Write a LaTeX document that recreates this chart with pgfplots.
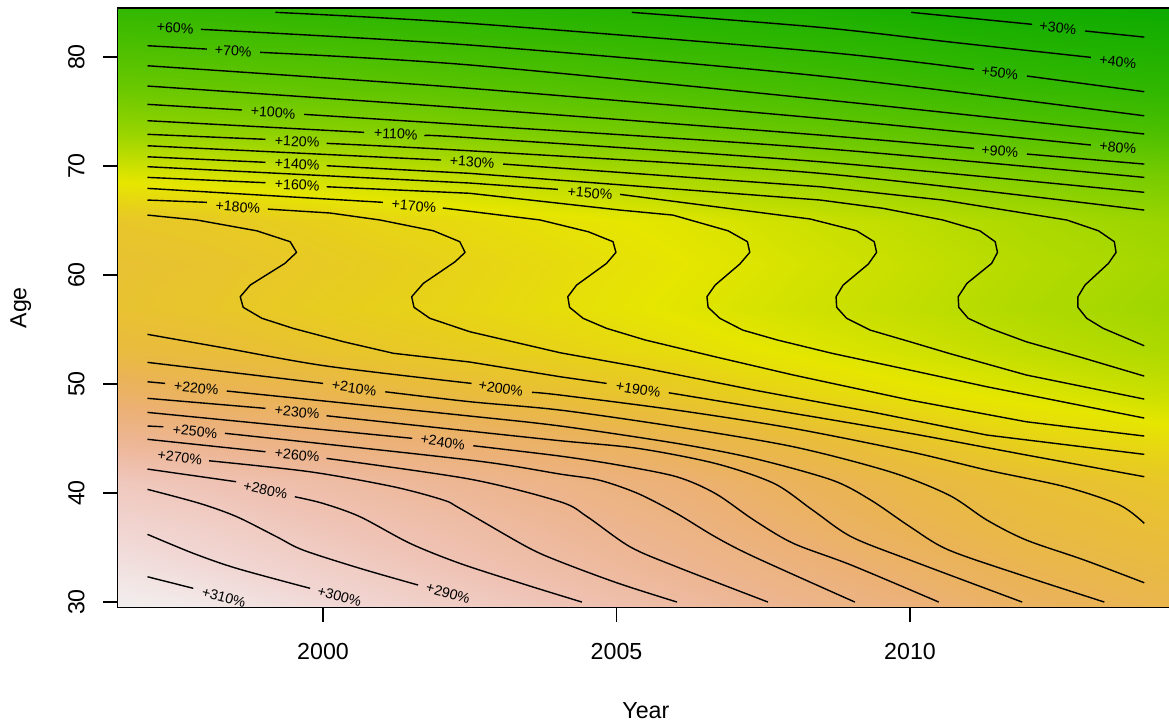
\documentclass[border=0pt]{standalone}
\usepackage{pgfplots}
\pgfplotsset{compat=1.18}
\usepackage{fontspec}
\setmainfont{Liberation Sans}
\pgfplotsset{cl/.style={black, line width=0.7pt, mark=none, line join=round},
  cs/.style={cl, smooth, tension=0.5}}
\newcommand\cl[4]{\node[font=\fontsize{7.1}{8}\selectfont, rotate=#3, inner sep=0pt] at (axis cs:#1,#2) {#4};}
\begin{document}
\begin{tikzpicture}
\begin{axis}[
  at={(0,0)}, anchor=south west,
  scale only axis, width=528.3pt, height=299.75pt,
  xmin=1996.5, xmax=2014.5, ymin=29.5, ymax=84.5,
  xtick={2000,2005,2010}, ytick={30,40,...,80},
  tick align=outside, major tick length=7.2pt,
  xtick pos=left, ytick pos=left,
  axis line style={line width=0.6pt},
  every tick/.style={black, line width=0.6pt},
  /pgf/number format/assume math mode=true,
  /pgf/number format/1000 sep={},
  tick label style={font=\fontsize{11.6}{13}\selectfont, inner sep=0pt},
  xticklabel style={anchor=north},
  yticklabel style={rotate=90, anchor=south},
  xticklabel shift=10.7pt, yticklabel shift=9.1pt,
  xlabel={Year}, ylabel={Age},
  label style={font=\fontsize{11.6}{13}\selectfont, inner sep=0pt},
  xlabel style={at={(axis description cs:0.5,-0.1576)}, anchor=north},
  ylabel style={at={(axis description cs:-0.1018,0.5)}, anchor=north},
  colormap={terrain}{rgb255=(0,166,0) rgb255=(22,174,0) rgb255=(45,182,0) rgb255=(71,190,0) rgb255=(99,198,0) rgb255=(128,206,0) rgb255=(160,214,0) rgb255=(194,222,0) rgb255=(230,230,0) rgb255=(231,206,29) rgb255=(233,189,58) rgb255=(234,179,88) rgb255=(236,177,118) rgb255=(237,182,148) rgb255=(239,194,179) rgb255=(241,214,211) rgb255=(242,242,242)},
  point meta min=8, point meta max=320,
  axis on top,
]
\addplot[surf, shader=interp, mesh/cols=10, point meta=explicit] table[x=x,y=y,meta=v] {
x y v
1996.5 29.5 318
1998 29.5 314
2000 29.5 304
2002 29.5 294
2004 29.5 284
2006 29.5 272
2008 29.5 258
2010 29.5 246
2012 29.5 228
2014.5 29.5 216
1996.5 33 309
1998 33 303
2000 33 294
2002 33 284
2004 33 273
2006 33 261
2008 33 248
2010 33 233
2012 33 218
2014.5 33 208
1996.5 37 299
1998 37 294
2000 37 284
2002 37 275
2004 37 264
2006 37 252
2008 37 236
2010 37 220
2012 37 208
2014.5 37 200
1996.5 41 287
1998 41 282
2000 41 273
2002 41 263
2004 41 253
2006 41 242
2008 41 225
2010 41 211
2012 41 201
2014.5 41 191
1996.5 45 261
1998 45 255
2000 45 246
2002 45 238
2004 45 229
2006 45 217
2008 45 206
2010 45 193
2012 45 179
2014.5 45 171
1996.5 49 233
1998 49 224
2000 49 217
2002 49 208
2004 49 200
2006 49 191
2008 49 179
2010 49 168
2012 49 160
2014.5 49 148
1996.5 53 207
1998 53 203
2000 53 195
2002 53 188
2004 53 180
2006 53 172
2008 53 162
2010 53 153
2012 53 143
2014.5 53 132
1996.5 57 197
1998 57 193
2000 57 185
2002 57 179
2004 57 171
2006 57 162
2008 57 153
2010 57 144
2012 57 134
2014.5 57 124
1996.5 61 198
1998 61 195
2000 61 188
2002 61 181
2004 61 173
2006 61 165
2008 61 156
2010 61 147
2012 61 137
2014.5 61 127
1996.5 65 192
1998 65 189
2000 65 182
2002 65 175
2004 65 168
2006 65 161
2008 65 151
2010 65 142
2012 65 132
2014.5 65 121
1996.5 69 160
1998 69 157
2000 69 151
2002 69 145
2004 69 138
2006 69 130
2008 69 124
2010 69 115
2012 69 106
2014.5 69 100
1996.5 73 121
1998 73 117
2000 73 112
2002 73 108
2004 73 102
2006 73 96
2008 73 90
2010 73 84
2012 73 77
2014.5 73 70
1996.5 77 92
1998 77 90
2000 77 86
2002 77 82
2004 77 77
2006 77 72
2008 77 67
2010 77 61
2012 77 55
2014.5 77 49
1996.5 81 70
1998 81 68
2000 81 65
2002 81 61
2004 81 57
2006 81 53
2008 81 49
2010 81 44
2012 81 38
2014.5 81 33
1996.5 84.5 51
1998 84.5 50
2000 84.5 47
2002 84.5 44
2004 84.5 40
2006 84.5 37
2008 84.5 34
2010 84.5 28
2012 84.5 24
2014.5 84.5 19
};
% +30
\addplot[cl] coordinates {(2010.02,84.10) (2012.08,83.00)};
\addplot[cl] coordinates {(2012.98,82.39) (2013.99,81.83)};
% +40
\addplot[cs] coordinates {(2005.26,84.10) (2008.47,82.72) (2010.68,81.38) (2013.08,79.97)};
% +50
\addplot[cs] coordinates {(1999.19,84.10) (2002.50,83.09) (2008.47,80.49) (2011.09,78.87)};
\addplot[cl] coordinates {(2011.99,78.26) (2013.99,76.82)};
% +60
\addplot[cs] coordinates {(1997.92,82.54) (2002.50,81.10) (2008.47,78.26) (2013.99,74.61)};
% +70
\addplot[cl] coordinates {(1997.01,81.04) (1998.02,80.73)};
\addplot[cs] coordinates {(1998.93,80.43) (2002.50,79.27) (2008.47,76.12) (2013.99,72.94)};
% +80
\addplot[cs] coordinates {(1997.01,79.20) (2002.50,77.13) (2008.47,74.38) (2013.08,71.93)};
% +90
\addplot[cs] coordinates {(1997.01,77.34) (2002.50,75.29) (2008.47,72.84) (2011.09,71.62)};
\addplot[cl] coordinates {(2011.99,71.10) (2013.99,70.18)};
% +100
\addplot[cl] coordinates {(1997.01,75.66) (1998.62,75.14)};
\addplot[cs] coordinates {(1999.68,74.74) (2002.50,73.76) (2008.47,71.62) (2013.99,68.96)};
% +110
\addplot[cl] coordinates {(1997.01,74.16) (2000.70,73.09)};
\addplot[cs] coordinates {(2001.75,72.78) (2002.50,72.60) (2008.47,70.39) (2013.99,67.59)};
% +120
\addplot[cl] coordinates {(1997.01,72.91) (1999.02,72.45)};
\addplot[cs] coordinates {(2000.06,72.08) (2002.50,71.40) (2008.47,69.33) (2013.99,65.96)};
% +130
\addplot[cl] coordinates {(1997.01,71.86) (2002.01,70.55)};
\addplot[cl] coordinates {(2003.07,70.18) (2008.47,68.10) (2010.56,66.88) (2012.67,65.05) (2013.21,64.06) (2013.48,63.06) (2013.51,62.08) (2013.38,61.07) (2012.98,59.08) (2012.86,58.01) (2012.86,57.04) (2013.01,56.03) (2013.29,55.11) (2013.99,53.51)};
% +140
\addplot[cl] coordinates {(1997.01,70.85) (1999.02,70.34)};
\addplot[cl] coordinates {(2000.06,70.03) (2002.50,69.33) (2008.47,66.88) (2009.54,66.12) (2010.56,65.05) (2011.19,64.06) (2011.45,63.06) (2011.49,62.08) (2011.39,61.07) (2010.97,59.24) (2010.82,58.01) (2010.83,57.04) (2010.99,56.03) (2011.36,55.11) (2011.98,53.88) (2012.97,52.36) (2013.99,50.73)};
% +150
\addplot[cl] coordinates {(1997.01,69.94) (2002.50,68.44) (2004.00,67.86)};
\addplot[cl] coordinates {(2005.06,67.40) (2008.30,65.14) (2009.09,64.06) (2009.39,63.06) (2009.43,62.08) (2009.29,61.01) (2008.86,59.08) (2008.74,58.01) (2008.75,57.04) (2008.92,56.03) (2009.32,54.95) (2010.00,53.88) (2010.66,52.82) (2011.98,50.83) (2013.99,48.62)};
% +160
\addplot[cl] coordinates {(1997.01,68.96) (1999.02,68.47)};
\addplot[cl] coordinates {(2000.06,68.10) (2002.50,67.50) (2005.06,65.96) (2005.96,65.50) (2006.90,64.06) (2007.23,63.06) (2007.27,62.08) (2007.10,61.01) (2006.68,59.08) (2006.54,58.01) (2006.56,57.04) (2006.76,56.03) (2007.15,54.95) (2007.74,54.04) (2008.67,52.82) (2010.00,51.28) (2011.31,49.75) (2013.99,46.88)};
% +170
\addplot[cl] coordinates {(1997.01,67.95) (2001.02,66.67)};
\addplot[cl] coordinates {(2002.04,66.15) (2003.70,65.05) (2004.52,63.97) (2004.94,63.06) (2004.99,62.08) (2004.83,61.07) (2004.32,59.08) (2004.17,58.01) (2004.20,57.04) (2004.43,56.03) (2004.83,55.11) (2005.49,54.04) (2006.68,52.50) (2008.01,50.83) (2010.00,48.53) (2011.98,46.54) (2013.99,45.23)};
% +180
\addplot[cl] coordinates {(1997.01,66.88) (1998.02,66.67)};
\addplot[cl] coordinates {(1999.06,66.05) (2000.12,65.69) (2000.97,65.05) (2001.88,64.06) (2002.33,63.06) (2002.42,62.08) (2002.25,61.22) (2001.71,59.24) (2001.51,58.01) (2001.55,57.04) (2001.82,56.03) (2002.50,54.80) (2004.04,52.87) (2005.36,51.59) (2007.34,49.45) (2009.33,47.46) (2011.31,45.32) (2013.99,43.55)};
% +190
\addplot[cl] coordinates {(1997.01,65.50) (1997.85,65.05) (1998.87,64.06) (1999.44,63.06) (1999.55,62.08) (1999.35,61.07) (1998.76,59.08) (1998.59,58.01) (1998.64,57.04) (1998.96,56.03) (1999.49,55.11) (2000.35,53.88) (2001.20,52.82) (2002.50,52.02) (2004.04,50.67) (2004.83,50.06)};
\addplot[cs] coordinates {(2005.89,49.20) (2008.01,47.31) (2010.00,45.48) (2011.98,43.49) (2013.99,41.50)};
% +200
\addplot[cs] coordinates {(1997.01,54.56) (1998.36,53.27) (2000.06,51.65) (2002.53,50.06)};
\addplot[cs] coordinates {(2003.56,49.24) (2004.04,48.99) (2006.02,47.61) (2008.01,45.93) (2010.00,43.79) (2011.31,42.11) (2012.64,40.58) (2013.57,38.90) (2013.99,37.22)};
% +210
\addplot[cl] coordinates {(1997.01,51.99) (2000.00,50.06)};
\addplot[cs] coordinates {(2001.06,49.29) (2002.50,48.38) (2004.04,47.61) (2006.02,46.08) (2008.01,44.25) (2009.66,41.95) (2010.66,39.82) (2011.31,37.52) (2011.98,35.69) (2012.97,33.85) (2013.99,31.77)};
% +220
\addplot[cl] coordinates {(1997.01,50.21) (1997.31,50.06)};
\addplot[cs] coordinates {(1998.36,49.36) (2002.33,47.16) (2004.04,46.15) (2006.02,44.56) (2007.34,43.18) (2008.67,41.19) (2009.33,39.36) (2010.00,36.91) (2010.66,34.77) (2011.98,32.32) (2013.31,30.00)};
% +230
\addplot[cl] coordinates {(1997.01,48.69) (1999.02,47.77)};
\addplot[cs] coordinates {(2000.06,47.09) (2002.33,45.78) (2004.04,44.80) (2005.36,44.10) (2006.68,42.72) (2007.68,40.89) (2008.34,38.44) (2009.00,35.99) (2010.00,33.85) (2011.91,30.00)};
% +240
\addplot[cl] coordinates {(1997.01,47.40) (2001.52,45.02)};
\addplot[cs] coordinates {(2002.56,44.34) (2004.04,43.39) (2005.03,42.57) (2006.02,41.50) (2006.68,39.97) (2007.34,37.52) (2008.01,35.39) (2009.00,33.39) (2010.49,30.00)};
% +250
\addplot[cl] coordinates {(1997.01,46.15) (1997.28,46.08)};
\addplot[cs] coordinates {(1998.33,45.48) (2002.50,43.03) (2004.04,41.74) (2004.70,41.19) (2005.36,39.97) (2006.02,38.14) (2006.68,35.99) (2007.34,34.16) (2009.06,30.00)};
% +260
\addplot[cl] coordinates {(1997.01,44.93) (1999.02,43.79)};
\addplot[cs] coordinates {(2000.06,43.18) (2002.50,41.28) (2004.04,39.20) (2004.50,37.83) (2005.23,35.07) (2006.02,33.24) (2007.58,30.00)};
% +270
\addplot[cs] coordinates {(1998.06,42.96) (1999.78,41.95) (2001.20,40.58) (2002.05,39.36) (2002.33,38.60) (2003.47,35.07) (2004.04,33.70) (2005.03,31.72) (2006.03,30.00)};
% +280
\addplot[cl] coordinates {(1997.01,42.20) (1998.52,41.04)};
\addplot[cs] coordinates {(1999.52,39.66) (2000.00,39.05) (2000.63,37.83) (2001.48,35.39) (2002.33,33.55) (2003.47,31.56) (2004.41,30.00)};
% +290
\addplot[cs] coordinates {(1997.01,40.34) (1997.90,39.05) (1998.53,37.83) (1999.21,35.99) (1999.66,34.77) (2000.63,33.09) (2001.62,31.56)};
% +300
\addplot[cs] coordinates {(1997.01,36.21) (1997.79,34.47) (1998.53,33.09) (1999.78,31.26)};
% +310
\addplot[cl] coordinates {(1997.01,32.32) (1997.79,31.26)};
% labels
\cl{2012.52}{82.66}{-6}{+30\%}
\cl{2013.54}{79.57}{-6}{+40\%}
\cl{2011.53}{78.58}{-7}{+50\%}
\cl{1997.48}{82.66}{-3}{+60\%}
\cl{1998.47}{80.55}{-3}{+70\%}
\cl{2013.54}{71.70}{-6}{+80\%}
\cl{2011.53}{71.37}{-5}{+90\%}
\cl{1999.15}{74.91}{-4}{+100\%}
\cl{2001.24}{72.94}{-3}{+110\%}
\cl{1999.56}{72.25}{-3}{+120\%}
\cl{2002.54}{70.37}{-4}{+130\%}
\cl{1999.56}{70.18}{-3}{+140\%}
\cl{2004.55}{67.52}{-5}{+150\%}
\cl{1999.56}{68.26}{-3}{+160\%}
\cl{2001.55}{66.33}{-5}{+170\%}
\cl{1998.55}{66.24}{-4}{+180\%}
\cl{2005.37}{49.50}{-9}{+190\%}
\cl{2003.03}{49.60}{-9}{+200\%}
\cl{2000.53}{49.63}{-8}{+210\%}
\cl{1997.84}{49.63}{-6}{+220\%}
\cl{1999.56}{47.43}{-6}{+230\%}
\cl{2002.04}{44.68}{-8}{+240\%}
\cl{1997.82}{45.64}{-6}{+250\%}
\cl{1999.56}{43.49}{-6}{+260\%}
\cl{1997.56}{43.30}{-7}{+270\%}
\cl{1999.02}{40.28}{-12}{+280\%}
\cl{2002.13}{30.83}{-15}{+290\%}
\cl{2000.28}{30.50}{-15}{+300\%}
\cl{1998.31}{30.41}{-15}{+310\%}
\end{axis}
\pgfresetboundingbox
\path[use as bounding box] (-58.78pt,-59.25pt) rectangle (525.7pt,303.75pt);
\end{tikzpicture}
\end{document}
